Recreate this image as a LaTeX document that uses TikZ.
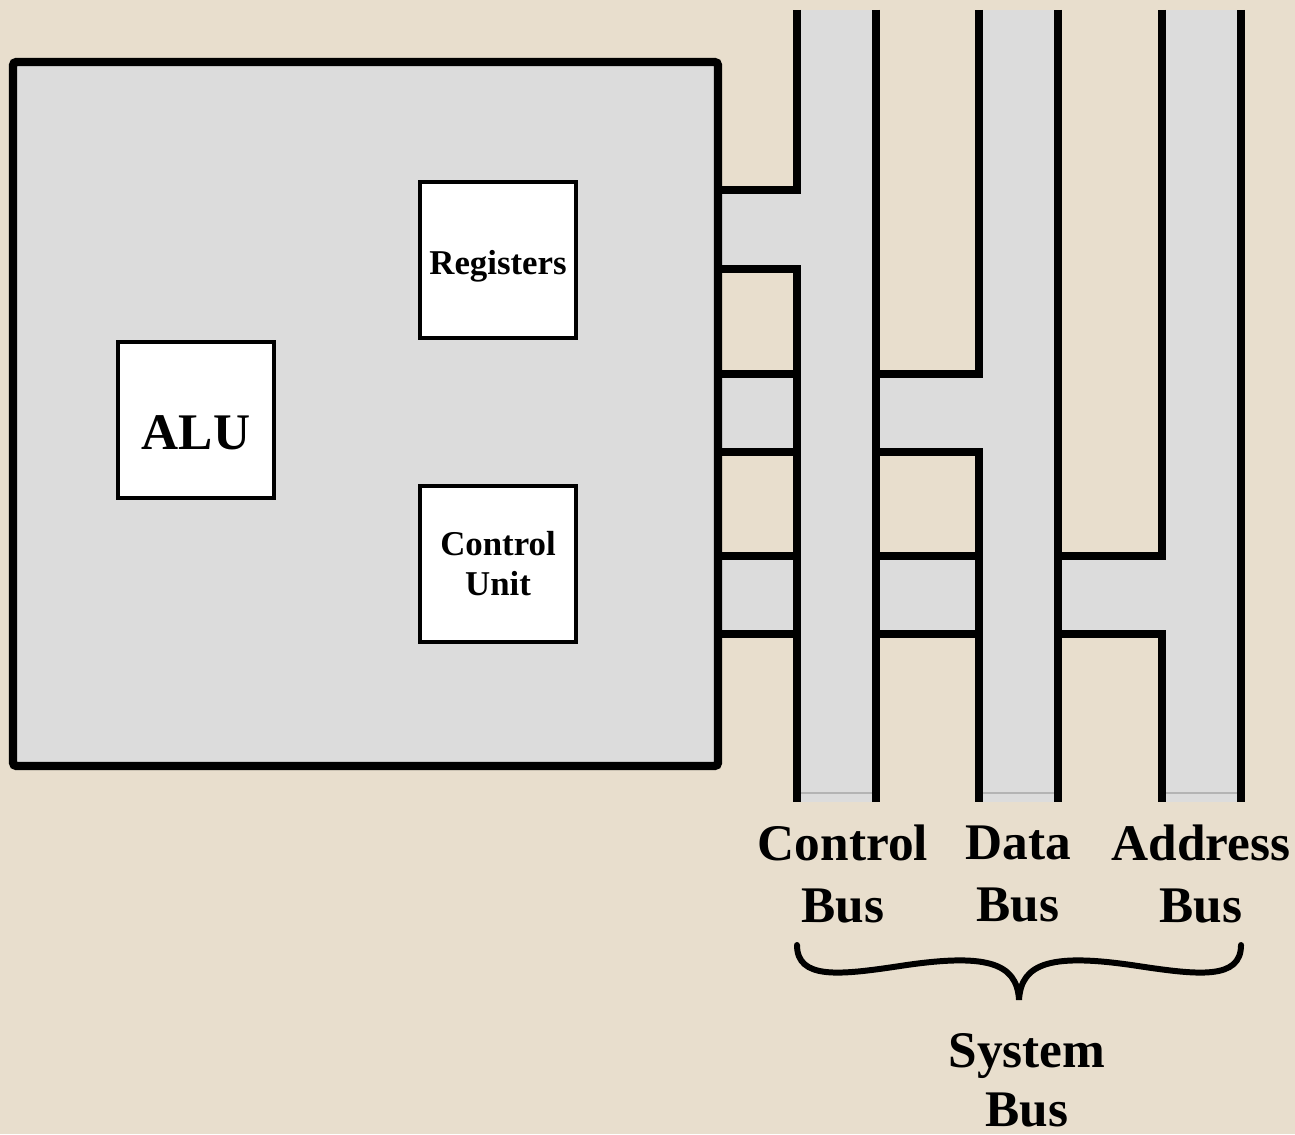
\documentclass[tikz,border=0pt]{standalone}
\usepackage{fontspec}
\setmainfont{Liberation Serif}
\usetikzlibrary{positioning}
\definecolor{Paper}{HTML}{E8DECD}
\definecolor{Chip}{HTML}{DCDCDC}
\definecolor{Seam}{HTML}{B4B4B4}
\tikzset{
  wire/.style={line width=2.4pt,draw=black},
  unit/.style={draw=black,line width=1.3pt,fill=white,minimum size=1.56cm,inner sep=0pt,align=center,font=\bfseries\fontsize{9.9}{11.4}\selectfont},
  buslab/.style={align=center,inner sep=0pt,font=\bfseries\fontsize{14.6}{17.6}\selectfont},
  brace/.style={line width=1.7pt,line cap=round}
}
\begin{document}
\begin{tikzpicture}[x=0.01cm,y=-0.01cm]
    \fill[Paper] (0,0) rectangle (1295,1134);
    \useasboundingbox (0,0) rectangle (1295,1134);
    \fill[Chip] (13,62) rectangle (718,766);
    \foreach \x in {797,979,1162}{\fill[Chip] (\x,10) rectangle (\x+79,802);
      \draw[Seam,line width=.3pt] (\x+3,793) -- (\x+76,793);}
    \fill[Chip] (718,190) rectangle (797,269);
    \fill[Chip] (718,374) rectangle (979,452);
    \fill[Chip] (718,556) rectangle (1162,634);
    \draw[wire,rounded corners=1pt] (13,62) rectangle (718,766);
    \draw[wire] (797,10)--(797,190)--(718,190) (718,269)--(797,269)--(797,802);
    \draw[wire] (979,10)--(979,374)--(876,374) (876,452)--(979,452)--(979,802);
    \draw[wire] (1162,10)--(1162,556)--(1058,556) (1058,634)--(1162,634)--(1162,802);
    \draw[wire] (718,374)--(797,374) (718,452)--(797,452);
    \draw[wire] (718,556)--(797,556) (718,634)--(797,634) (876,556)--(979,556) (876,634)--(979,634);
    \foreach \x in {876,1058,1241}{\draw[wire] (\x,10)--(\x,802);}
    \node[unit,text height=10.4pt,text depth=2.2pt] (reg) at (498,260) {Registers};
    \node[unit] (cu) at (498,564) {Control\\Unit};
    \node[unit,text height=16.6pt,text depth=0pt,font=\bfseries\fontsize{14.6}{17}\selectfont] (alu) at (196,420) {ALU};
    \node[buslab] (cbus) at (843,874) {Control\\Bus};
    \node[buslab] (dbus) at (1018,874) {Data\\Bus};
    \node[buslab] (abus) at (1201,874) {Address\\Bus};
    \node[buslab,font=\bfseries\fontsize{14.6}{16.7}\selectfont] (sbus) at (1027,1080) {System\\Bus};
    \draw[brace] (797,945) .. controls (797,980) and (840,975) .. (900,966)
      .. controls (985,953) and (1017,962) .. (1019,1000)
      .. controls (1021,962) and (1053,953) .. (1138,966)
      .. controls (1198,975) and (1241,980) .. (1241,945);
  \end{tikzpicture}
\end{document}
